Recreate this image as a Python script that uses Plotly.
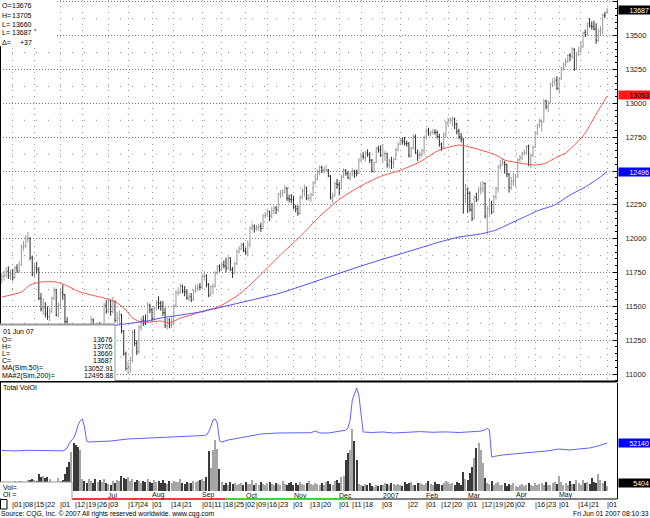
import plotly.graph_objects as go
import pandas as pd

W, H = 650, 518
def px(x): return x / W
def py(y): return 1 - y / H

# ---------------- data ----------------
holidays = ["2006-05-29", "2006-07-04", "2006-09-04", "2006-11-23", "2006-12-25",
            "2007-01-01", "2007-01-02", "2007-01-15", "2007-02-19", "2007-04-06", "2007-05-28"]

opens = [11700,11720,11730,11758,11722,11740,11715,11785,11762,11808,
 11938,11950,11998,12000,11860,11735,11786,11770,11560,11482,
 11498,11445,11420,11462,11560,11620,11435,11512,11602,11584,
 11388,11340,11264,11275,11226,11120,11038,11148,11340,11318,
 11265,11300,11400,11342,11306,11366,11292,11320,11508,11466,
 11538,11460,11536,11396,11412,11438,11320,11150,11040,11046,
 11100,11308,11226,11166,11344,11398,11392,11392,11506,11474,
 11410,11486,11528,11522,11502,11454,11356,11400,11366,11374,
 11506,11598,11606,11650,11612,11608,11562,11570,11550,11612,
 11632,11644,11642,11720,11724,11660,11586,11642,11650,11746,
 11792,11772,11808,11798,11782,11856,11772,11745,11816,11904,
 11926,11954,11910,11900,11955,12080,12092,12075,12084,12090,
 12074,12170,12178,12200,12166,12206,12228,12214,12330,12336,
 12342,12374,12295,12290,12288,12232,12222,12186,12306,12352,
 12375,12298,12300,12322,12412,12440,12492,12528,12505,12506,
 12508,12462,12300,12318,12404,12398,12372,12456,12504,12484,
 12448,12478,12496,12484,12482,12580,12610,12600,12634,12622,
 12578,12498,12562,12664,12656,12614,12624,12628,12544,12572,
 12560,12588,12656,12700,12724,12718,12704,12700,12612,12668,
 12752,12632,12618,12620,12650,12748,12796,12778,12782,12788,
 12785,12755,12700,12670,12768,12856,12876,12874,12884,12848,
 12794,12752,12736,12322,12368,12336,12212,12150,12306,12290,
 12352,12370,12408,12168,12220,12248,12198,12312,12370,12532,
 12544,12562,12546,12476,12378,12424,12426,12458,12584,12598,
 12630,12636,12680,12550,12618,12676,12780,12836,12862,12866,
 13018,12975,13004,13140,13158,13172,13110,13182,13256,13286,
 13306,13356,13348,13400,13254,13362,13380,13418,13522,13506,
 13588,13572,13566,13550,13464,13530,13545,13652,13676]

highs = [11750,11765,11788,11795,11770,11776,11800,11812,11830,11958,
 11985,12024,12050,12012,11875,11820,11830,11790,11598,11560,
 11530,11500,11490,11572,11640,11630,11528,11632,11660,11592,
 11420,11372,11330,11318,11240,11150,11170,11362,11372,11345,
 11320,11430,11412,11370,11380,11385,11352,11525,11545,11560,
 11548,11570,11545,11458,11470,11445,11325,11165,11090,11130,
 11325,11330,11250,11362,11420,11432,11440,11530,11520,11490,
 11500,11548,11575,11540,11540,11490,11415,11412,11420,11515,
 11618,11640,11668,11660,11650,11628,11600,11598,11628,11660,
 11668,11672,11740,11760,11735,11672,11655,11668,11760,11805,
 11810,11830,11840,11860,11870,11864,11790,11828,11920,11945,
 11968,11970,11935,11985,12090,12112,12105,12102,12110,12118,
 12180,12198,12222,12208,12235,12245,12240,12338,12360,12365,
 12395,12380,12325,12330,12318,12250,12245,12318,12372,12400,
 12385,12330,12340,12425,12470,12510,12540,12540,12530,12545,
 12515,12470,12340,12420,12440,12420,12470,12520,12515,12500,
 12490,12520,12510,12510,12595,12628,12640,12648,12660,12640,
 12590,12570,12678,12688,12690,12700,12650,12635,12592,12605,
 12598,12670,12712,12740,12745,12752,12725,12715,12680,12770,
 12770,12660,12645,12665,12762,12815,12820,12800,12810,12810,
 12800,12775,12710,12785,12870,12892,12895,12902,12895,12858,
 12812,12780,12742,12405,12375,12350,12262,12318,12340,12382,
 12420,12425,12415,12240,12300,12280,12322,12385,12545,12580,
 12590,12575,12555,12485,12455,12490,12475,12595,12620,12642,
 12660,12690,12695,12630,12688,12795,12850,12885,12880,13030,
 13025,13020,13155,13185,13192,13200,13196,13270,13300,13328,
 13365,13372,13415,13408,13380,13420,13460,13530,13545,13598,
 13630,13605,13612,13592,13550,13570,13662,13675,13705]

lows = [11668,11690,11712,11702,11695,11690,11705,11745,11748,11800,
 11910,11930,11972,11840,11722,11710,11742,11545,11462,11440,
 11418,11400,11390,11450,11548,11425,11420,11480,11548,11372,
 11310,11240,11190,11205,11110,11010,11020,11135,11290,11250,
 11240,11288,11318,11280,11284,11270,11262,11310,11445,11455,
 11430,11450,11380,11372,11360,11300,11135,11025,11000,11008,
 11085,11205,11140,11150,11320,11355,11362,11380,11450,11388,
 11395,11470,11478,11468,11430,11340,11328,11338,11340,11365,
 11490,11578,11590,11596,11575,11548,11540,11530,11540,11600,
 11610,11618,11630,11690,11640,11568,11572,11590,11640,11735,
 11755,11765,11780,11752,11770,11760,11710,11740,11805,11890,
 11915,11900,11880,11868,11935,12060,12045,12060,12058,12050,
 12070,12150,12168,12130,12150,12180,12182,12196,12300,12310,
 12335,12280,12268,12262,12220,12195,12170,12180,12290,12310,
 12285,12280,12270,12315,12400,12430,12470,12485,12480,12495,
 12455,12290,12262,12310,12370,12320,12365,12448,12465,12440,
 12430,12460,12450,12460,12478,12570,12585,12570,12605,12560,
 12488,12485,12558,12635,12605,12560,12575,12525,12520,12515,
 12520,12580,12645,12690,12695,12690,12680,12600,12598,12660,
 12625,12575,12590,12605,12620,12730,12760,12755,12770,12768,
 12740,12680,12650,12668,12745,12830,12850,12830,12810,12770,
 12735,12712,12185,12260,12190,12200,12130,12145,12270,12280,
 12325,12340,12150,12030,12170,12180,12190,12290,12340,12510,
 12540,12480,12455,12340,12360,12390,12385,12450,12568,12580,
 12615,12620,12535,12520,12600,12670,12765,12820,12790,12858,
 12955,12935,13000,13120,13130,13098,13070,13175,13240,13270,
 13300,13310,13330,13240,13250,13350,13370,13410,13490,13500,
 13560,13545,13540,13440,13455,13505,13510,13630,13660]

closes = [11722,11728,11754,11725,11737,11712,11783,11766,11803,11940,
 11946,12000,12002,11858,11737,11784,11774,11558,11480,11495,
 11443,11423,11464,11557,11622,11437,11510,11600,11586,11386,
 11339,11266,11272,11224,11123,11036,11145,11343,11317,11267,
 11298,11402,11340,11309,11364,11290,11318,11505,11464,11540,
 11462,11535,11398,11410,11440,11318,11149,11041,11048,11098,
 11309,11225,11164,11345,11396,11394,11390,11508,11473,11412,
 11484,11526,11523,11500,11453,11355,11402,11364,11372,11504,
 11600,11605,11651,11614,11606,11563,11569,11548,11614,11630,
 11642,11640,11721,11726,11661,11584,11644,11647,11748,11791,
 11774,11806,11799,11783,11855,11774,11747,11814,11906,11924,
 11952,11912,11902,11957,12079,12094,12077,12082,12091,12075,
 12168,12180,12199,12168,12208,12226,12216,12328,12338,12344,
 12372,12297,12292,12286,12234,12220,12187,12305,12354,12373,
 12299,12303,12324,12410,12442,12494,12530,12503,12507,12510,
 12463,12303,12316,12405,12399,12371,12458,12505,12482,12449,
 12477,12497,12483,12483,12581,12609,12603,12632,12623,12580,
 12500,12563,12665,12654,12615,12625,12630,12546,12570,12562,
 12587,12657,12698,12723,12716,12705,12702,12613,12667,12754,
 12634,12617,12619,12651,12749,12798,12777,12784,12787,12786,
 12756,12698,12668,12769,12855,12878,12878,12885,12847,12793,
 12753,12737,12320,12370,12335,12214,12148,12304,12288,12354,
 12369,12410,12166,12222,12247,12197,12311,12372,12530,12543,
 12561,12548,12475,12377,12423,12428,12456,12582,12600,12629,
 12638,12678,12549,12617,12675,12782,12834,12863,12865,13017,
 12974,13006,13142,13157,13171,13111,13183,13258,13285,13308,
 13355,13350,13401,13253,13364,13382,13417,13520,13508,13586,
 13571,13567,13548,13466,13531,13544,13654,13647,13687]

volume = [9200,8700,10100,9400,8800,9900,10400,9100,10800,11200,9600,10300,12100,
 12000,13500,12000,11000,18000,15000,16000,14000,15500,13000,10000,9000,10000,14500,11000,12000,18000,
 26000,31000,42000,52000,50000,48000,45000,13000,
 11000,9000,12500,10500,8800,13000,9500,11500,10000,12800,9000,7500,6000,10500,9200,12000,11000,16500,
 14000,12500,15000,11000,13500,9800,12000,10400,8500,11200,9300,12600,10000,8700,11800,9500,10800,8200,
 12200,9000,7800,10600,8600,11400,10200,9400,12800,8800,7600,10000,9200,8400,11000,9800,10500,12000,
 12500,11000,15500,
 43000,25000,44000,55000,46000,24000,
 9500,7000,8200,6500,9800,7200,8800,6000,7600,9000,6800,10200,8000,7400,11500,6200,8600,7000,9400,7800,
 6400,8800,10000,7200,6600,9200,8000,7000,11000,7600,6200,8400,9600,7000,8200,6800,9800,7400,6000,8600,
 10400,7200,6400,9000,7800,6600,8800,7000,9600,11200,8000,6400,10600,12400,9000,
 15000,16500,
 34000,41000,44000,67000,54000,34000,
 8000,6400,5600,7200,6000,8400,5800,4800,6200,5400,7000,6600,8800,7400,6000,9200,7800,6400,8000,6800,
 5600,9400,7200,8600,10200,7000,6200,8400,9000,7600,6600,8200,10400,7400,6800,9600,8000,7200,6400,8800,
 11000,9400,7600,8400,6800,9800,8200,7000,
 21000,13500,12000,
 20000,26000,36000,47000,52000,45000,30000,14000,
 9000,7200,10500,6800,8200,9600,7000,6400,8800,5800,7600,6200,8400,5200,4800,6600,7800,5600,6400,8600,
 7000,5800,9200,6600,7400,8200,6000,9800,7000,6400,8800,10200,7600,16500,9400,7000,8600,6200,10800,8000,
 7400,12400,9000,6800,11600,8200,10000,7200,13600,9600,8400,18500,12000,8800,11400,5404]

ma50_idx = [0, 9, 13, 18, 25, 29, 36, 41, 45, 50, 53, 57, 60, 64, 68, 73, 77, 82, 87, 91,
            100, 110, 119, 128, 137, 146, 155, 165, 174, 183, 192, 201, 210, 215, 220, 227,
            231, 238, 245, 250, 255, 259, 264, 268, 272, 275, 278]
ma50_val = [11569, 11606, 11658, 11680, 11680, 11658, 11606, 11584, 11569, 11547, 11525, 11473,
            11414, 11384, 11384, 11392, 11377, 11414, 11436, 11458, 11500, 11600, 11735, 11880,
            12015, 12165, 12290, 12390, 12460, 12505, 12567, 12655, 12692, 12677, 12655, 12618,
            12581, 12559, 12544, 12559, 12604, 12633, 12707, 12781, 12892, 12973, 13053]

ma200_idx = [40, 46, 53, 60, 67, 73, 79, 85, 91, 109, 128, 146, 165, 183, 192, 201, 210,
             220, 227, 234, 240, 247, 254, 261, 268, 275, 278]
ma200_val = [11335, 11347, 11362, 11377, 11392, 11414, 11428, 11443, 11458, 11525, 11599,
             11695, 11798, 11887, 11931, 11975, 12012, 12035, 12064, 12116, 12160, 12212,
             12249, 12323, 12382, 12456, 12496]

oi_idx = [0, 6, 12, 18, 24, 28, 29, 30, 31, 33, 34, 35, 36, 37, 38, 39, 40, 45, 50, 58,
          68, 75, 83, 88, 91, 93, 94, 95, 96, 97, 98, 99, 100, 101, 104, 112, 119, 127, 135, 142,
          144, 146, 150, 154, 158, 159, 160, 161, 163, 164, 165, 166, 170, 175, 180, 186, 192, 198, 204, 210,
          216, 220, 222, 223, 224, 225, 226, 230, 240, 250, 256, 261, 265, 270, 274, 277, 278]
oi_val = [44000, 43500, 44200, 43800, 44000, 43600, 44500, 46700, 52100, 57600,
          63000, 71700, 76000, 78200, 69500, 54000, 53200, 53800, 54300, 56500,
          57600, 57800, 58600, 59400, 59700, 60300, 60800, 64100, 69500, 77100,
          78200, 73800, 54500, 53200, 55400, 58600, 61900, 63000, 63000, 63300,
          65200, 63000, 63000, 64100, 66000, 68400, 77100, 98800, 111900, 104300,
          84700, 64100, 63500, 64100, 63000, 63600, 64500, 63800, 64200, 63500,
          64000, 65000, 66500, 68000, 66000, 37000, 37500, 39100, 41300, 43400,
          45600, 44500, 45600, 46700, 48900, 51000, 52140]

price_ticks = [11000, 11250, 11500, 11750, 12000, 12250, 12500, 12750, 13000, 13250, 13500, 13750]
price_tick_text = ["11000", "11250", "11500", "11750", "12000", "12250", "", "12750",
                   "13000", "13250", "13500", ""]
sparse_rows = [11125, 11375, 11625, 11875, 12125, 12375, 12625, 12875, 13125, 13375, 13625]

date_tick_dates = ["2006-05-01", "2006-05-08", "2006-05-15", "2006-05-22", "2006-06-01", "2006-06-12",
                   "2006-06-19", "2006-06-26", "2006-07-03", "2006-07-17", "2006-07-24", "2006-08-01",
                   "2006-08-14", "2006-08-21", "2006-09-01", "2006-09-11", "2006-09-18", "2006-09-25",
                   "2006-10-02", "2006-10-09", "2006-10-16", "2006-10-23", "2006-11-01", "2006-11-13",
                   "2006-11-20", "2006-12-01", "2006-12-11", "2006-12-18", "2007-01-03", "2007-01-22",
                   "2007-02-01", "2007-02-12", "2007-02-20", "2007-03-01", "2007-03-12", "2007-03-19",
                   "2007-03-26", "2007-04-02", "2007-04-16", "2007-04-23", "2007-05-01", "2007-05-14",
                   "2007-05-21", "2007-06-01"]
month_dates = ["2006-07-03", "2006-08-01", "2006-09-01", "2006-10-02", "2006-11-01", "2006-12-01",
               "2007-01-03", "2007-02-01", "2007-03-01", "2007-04-02", "2007-05-01"]
month_text = ["Jul", "Aug", "Sep", "Oct", "Nov", "Dec", "2007", "Feb", "Mar", "Apr", "May"]
grid_dates = ["2006-05-01", "2006-05-15", "2006-06-01", "2006-06-15", "2006-07-03", "2006-07-17",
              "2006-08-01", "2006-08-15", "2006-09-01", "2006-09-15", "2006-10-02", "2006-10-16",
              "2006-11-01", "2006-11-15", "2006-12-01", "2006-12-15", "2007-01-03", "2007-01-16",
              "2007-02-01", "2007-02-15", "2007-03-01", "2007-03-15", "2007-04-02", "2007-04-16",
              "2007-05-01", "2007-05-15", "2007-06-01"]

# ---------------- calendar ----------------
dates = pd.bdate_range("2006-04-24", "2007-06-01")
dates = dates[~dates.isin(pd.to_datetime(holidays))]
n = len(dates)
assert n == len(opens) == len(highs) == len(lows) == len(closes) == len(volume)
idx = list(range(n))
def di(d): return int(dates.get_loc(pd.Timestamp(d)))

FONT = "Liberation Sans"
FS = 7
fig = go.Figure()
fig.add_trace(go.Ohlc(x=idx, open=opens, high=highs, low=lows, close=closes,
                      increasing=dict(line=dict(color="#999999", width=1)),
                      decreasing=dict(line=dict(color="#2e2e2e", width=1)),
                      tickwidth=0.4, xaxis="x", yaxis="y", hoverinfo="skip"))
fig.add_trace(go.Scatter(x=ma50_idx, y=ma50_val, mode="lines",
                         line=dict(color="#ff5050", width=1, shape="spline", smoothing=0.6),
                         xaxis="x", yaxis="y", hoverinfo="skip"))
fig.add_trace(go.Scatter(x=ma200_idx, y=ma200_val, mode="lines",
                         line=dict(color="#4f4fff", width=1, shape="spline", smoothing=0.6),
                         xaxis="x", yaxis="y", hoverinfo="skip"))
vol_colors = ["#a6a6a6" if c >= o else "#3a3a3a" for o, c in zip(opens, closes)]
fig.add_trace(go.Bar(x=idx, y=volume, marker=dict(color=vol_colors, line=dict(width=0)),
                     width=0.5, xaxis="x2", yaxis="y2", hoverinfo="skip"))
fig.add_trace(go.Scatter(x=oi_idx, y=oi_val, mode="lines", line=dict(color="#6060ff", width=1),
                         xaxis="x2", yaxis="y2", hoverinfo="skip"))

x_per_px = 1 / 2.177
xr = [-1.8 * x_per_px, (617 - 1.8) * x_per_px]
base_px, vscale = 491.0, 1086.0
vol_range = [-(499 - base_px) * vscale, (base_px - 383) * vscale]

fig.update_layout(
    width=W, height=H, margin=dict(l=0, r=0, t=0, b=0),
    paper_bgcolor="white", plot_bgcolor="white", showlegend=False, hovermode=False,
    font=dict(family=FONT, size=FS, color="#000"),
    bargap=0,
    xaxis=dict(domain=[0, px(617)], range=xr, anchor="y", showticklabels=False, ticks="",
               tickmode="array", tickvals=[di(d) for d in grid_dates],
               showgrid=True, gridcolor="#9a9a9a", griddash="1px,5px", gridwidth=1,
               zeroline=False, showline=False, rangeslider=dict(visible=False), fixedrange=True),
    yaxis=dict(domain=[py(382), 1], range=[10940.9, 13763.8], side="right", anchor="x",
               tickmode="array", tickvals=price_ticks, ticktext=price_tick_text,
               showgrid=True, gridcolor="#7a7a7a", griddash="1px,2px", gridwidth=1,
               zeroline=False, showline=True, linecolor="#000", linewidth=1,
               ticks="inside", ticklen=4, tickcolor="#000",
               minor=dict(ticks="inside", ticklen=2, tickcolor="#000", dtick=50, tick0=0, showgrid=False),
               tickfont=dict(family=FONT, size=7.5, color="#222"), ticklabelstandoff=6, fixedrange=True),
    xaxis2=dict(domain=[0, px(617)], range=xr, matches="x", anchor="y2", showticklabels=False,
                ticks="", showgrid=False, zeroline=False, showline=False),
    yaxis2=dict(domain=[py(499), py(383)], range=vol_range, side="right", anchor="x2",
                showticklabels=False, ticks="", showgrid=False, zeroline=False,
                showline=True, linecolor="#000", linewidth=1, fixedrange=True),
)

shapes = []
def hline(y, x0, x1, color="#000", width=1, dash="solid"):
    shapes.append(dict(type="line", xref="paper", yref="paper", x0=px(x0), x1=px(x1),
                       y0=py(y), y1=py(y), line=dict(color=color, width=width, dash=dash), layer="above"))
def vline(x, y0, y1, color="#000", width=1):
    shapes.append(dict(type="line", xref="paper", yref="paper", x0=px(x), x1=px(x),
                       y0=py(y0), y1=py(y1), line=dict(color=color, width=width), layer="above"))
def rect(x0, y0, x1, y1, fill="white", line_color=None, lw=1):
    shapes.append(dict(type="rect", xref="paper", yref="paper", x0=px(x0), x1=px(x1),
                       y0=py(y1), y1=py(y0), fillcolor=fill,
                       line=dict(color=line_color or fill, width=lw if line_color else 0), layer="above"))

# sparse minor grid rows
for v in sparse_rows:
    shapes.append(dict(type="line", xref="x", yref="y", x0=xr[0], x1=xr[1], y0=v, y1=v,
                       line=dict(color="#8a8a8a", width=1, dash="1px,11px"), layer="below"))

# frame
vline(0.5, 0, 499)
hline(381.5, 0, 617, width=2)
# contract line at bottom of volume panel
hline(499, 72, 225, color="#e00000", width=1.5)
hline(499, 225, 348, color="#00c000", width=1.5)
hline(499, 348, 617, color="#000", width=1)

# info boxes
rect(0, 0, 55, 46)
rect(0, 324, 115, 381)
hline(324.5, 0, 115, color="#9a9a9a", width=2)
vline(115, 324, 381, color="#9a9a9a")
rect(0, 482, 72, 498.5)
hline(482, 0, 72, color="#9a9a9a")
vline(72, 482, 499, color="#9a9a9a")
rect(0.5, 499.5, 7, 509, fill="white", line_color="#000", lw=1)

ann = []
def text(x, y, s, anchor="left", size=FS, color="#000"):
    ann.append(dict(x=px(x), y=py(y), xref="paper", yref="paper", text=s, showarrow=False,
                    xanchor=anchor, yanchor="middle", font=dict(family=FONT, size=size, color=color),
                    borderpad=0))

# top-left quote block
for yy, lab, val in [(6, "O=", "13676"), (15, "H=", "13705"), (24, "L=", "13660"),
                     (33, "L=", "13687"), (42, "Δ=", "+37")]:
    text(1, yy, lab)
    text(32.5, yy, val, anchor="right")
text(32.5, 31, "*", size=6)

# bottom-left info block
text(2, 331.5, "01 Jun 07")
for yy, lab, val in [(339, "O=", "13676"), (346.3, "H=", "13705"), (353.6, "L=", "13660"),
                     (360.9, "C=", "13687"), (368.2, "MA(Sim,50)=", "13052.91"),
                     (375.5, "MA#2(Sim,200)=", "12495.88")]:
    text(1, yy, lab)
    text(113.5, yy, val, anchor="right")

text(2, 387.5, "Total VolOI")
text(2, 487.5, "Vol=")
text(2, 494, "OI =")

# month labels inside volume panel
for d, s in zip(month_dates, month_text):
    ann.append(dict(x=di(d), y=py(495), xref="x", yref="paper", text=s, showarrow=False,
                    xanchor="left", yanchor="middle", xshift=-1,
                    font=dict(family=FONT, size=FS, color="#111"), borderpad=0))
# date labels
for d in date_tick_dates:
    ann.append(dict(x=di(d), y=py(504.5), xref="x", yref="paper", text="|" + pd.Timestamp(d).strftime("%d"),
                    showarrow=False, xanchor="left", yanchor="middle", xshift=-1.5,
                    font=dict(family=FONT, size=7.5, color="#111"), borderpad=0))

# footer
text(0, 513.5, "Source: CQG, Inc. © 2007 All rights reserved worldwide. www.cqg.com", size=6.8)
text(650, 513.5, "Fri Jun 01 2007 08:10:33", anchor="right", size=6.8)

# right-side value boxes
def side_label(yval, s, bg, fg, yref="y", yshift=0):
    ann.append(dict(x=px(617.5), xref="paper", xanchor="left", y=yval, yref=yref, yanchor="middle",
                    text=s, showarrow=False, bgcolor=bg, font=dict(family=FONT, size=7, color=fg),
                    width=29, height=6, align="right", borderpad=1, yshift=yshift))
side_label(closes[-1], "13687", "#000000", "#ffffff")
side_label(ma50_val[-1], "13053", "#ff1a1a", "#000000", yshift=1)
side_label(ma200_val[-1], "12496", "#0000ff", "#ffffff")
side_label(oi_val[-1], "52140", "#0000ff", "#ffffff", yref="y2")
side_label(volume[-1], "5404", "#000000", "#ffffff", yref="y2", yshift=3)

fig.update_layout(shapes=shapes, annotations=ann)
fig.write_html("out.html", config={"displayModeBar": False})
